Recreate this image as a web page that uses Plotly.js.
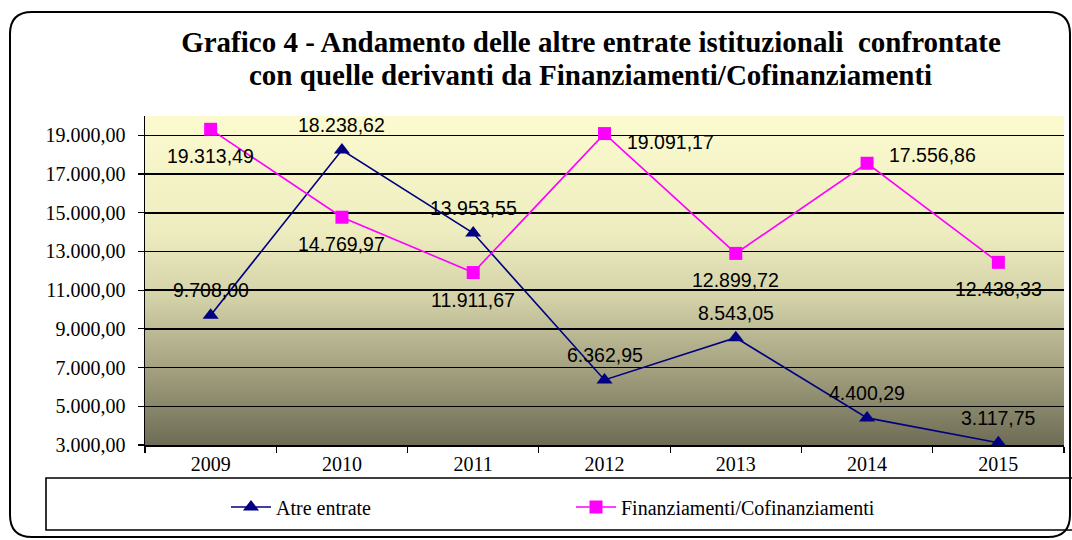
<!DOCTYPE html>
<html><head><meta charset="utf-8">
<script src="https://cdn.plot.ly/plotly-3.0.1.min.js"></script>
<style>html,body{margin:0;padding:0;background:#fff}#chart{width:1072px;height:540px}</style>
</head><body><div id="chart"></div>
<script>
// ---- data ----
const years = ['2009', '2010', '2011', '2012', '2013', '2014', '2015'];
const altreEntrate = [9708.00, 18238.62, 13953.55, 6362.95, 8543.05, 4400.29, 3117.75];
const finanziamenti = [19313.49, 14769.97, 11911.67, 19091.17, 12899.72, 17556.86, 12438.33];
const yTickVals = [3000, 5000, 7000, 9000, 11000, 13000, 15000, 17000, 19000];
const seriesNames = ['Atre entrate', 'Finanziamenti/Cofinanziamenti'];
const titleLines = ['Grafico 4 - Andamento delle altre entrate istituzionali  confrontate',
                    'con quelle derivanti da Finanziamenti/Cofinanziamenti'];
// label placement per point
const altrePos = ['above', 'above', 'above', 'above', 'above', 'above', 'above'];
const finPos = ['below', 'below', 'below', 'right', 'below', 'right', 'below'];

// ---- layout geometry ----
const W = 1072, H = 540;
const M = {l: 145, r: 8, t: 116, b: 95};
const PW = W - M.l - M.r, PH = H - M.t - M.b;
const px = x => (x - M.l) / PW;
const py = y => (H - M.b - y) / PH;

function fmt(v) {
  const s = v.toFixed(2).split('.');
  return s[0].replace(/\B(?=(\d{3})+(?!\d))/g, '.') + ',' + s[1];
}

const NAVY = '#000080', MAG = '#FF00FF';
const SERIF = 'Liberation Serif';
const traces = [
  {x: years, y: altreEntrate, name: seriesNames[0], type: 'scatter', mode: 'lines+markers',
   line: {color: NAVY, width: 1.6}, marker: {symbol: 'triangle-up', size: 14, color: NAVY}},
  {x: years, y: finanziamenti, name: seriesNames[1], type: 'scatter', mode: 'lines+markers',
   line: {color: MAG, width: 1.6}, marker: {symbol: 'square', size: 13, color: MAG}}
];

// vertical nudges (px) for 'right'-placed labels, matching the reference's manual placement
const rightNudge = {3: -8, 5: 8};
function makeLabels(vals, pos) {
  return vals.map((v, i) => {
    const a = {x: i, y: v, xref: 'x', yref: 'y', text: fmt(v), showarrow: false,
               font: {family: 'Liberation Sans', size: 19.5, color: '#000000'}};
    if (pos[i] === 'above') { a.yshift = 25; }
    else if (pos[i] === 'below') { a.yshift = -27; }
    else { a.xanchor = 'left'; a.xshift = 20; a.yshift = rightNudge[i] || 0; }
    return a;
  });
}

const r = 22, L = 10, T = 12, R = 1070, B = 537;
const outerPath = `M ${px(L + r)},${py(T)} L ${px(R - r)},${py(T)} Q ${px(R)},${py(T)} ${px(R)},${py(T + r)} ` +
  `L ${px(R)},${py(B - r)} Q ${px(R)},${py(B)} ${px(R - r)},${py(B)} L ${px(L + r)},${py(B)} ` +
  `Q ${px(L)},${py(B)} ${px(L)},${py(B - r)} L ${px(L)},${py(T + r)} Q ${px(L)},${py(T)} ${px(L + r)},${py(T)} Z`;

const gradSvg = '<svg xmlns="http://www.w3.org/2000/svg" width="100" height="100" preserveAspectRatio="none">' +
  '<defs><linearGradient id="g" x1="0" y1="0" x2="0" y2="1">' +
  '<stop offset="0" stop-color="#FCFBCF"/><stop offset="0.35" stop-color="#EEEDC0"/>' +
  '<stop offset="0.55" stop-color="#D4D2A8"/><stop offset="0.8" stop-color="#9C9A7A"/>' +
  '<stop offset="1" stop-color="#6E6C55"/></linearGradient></defs>' +
  '<rect width="100" height="100" fill="url(#g)"/></svg>';

const annotations = [...makeLabels(altreEntrate, altrePos), ...makeLabels(finanziamenti, finPos)];
annotations.push({xref: 'paper', yref: 'paper', x: px(590), y: py(75.5), xanchor: 'center', yanchor: 'middle',
  text: '<b>' + titleLines[1] + '</b>', showarrow: false, font: {family: SERIF, size: 29, color: '#000'}});

const layout = {
  width: W, height: H,
  margin: M,
  paper_bgcolor: '#fff', plot_bgcolor: 'rgba(0,0,0,0)',
  separators: ',.',
  showlegend: true,
  title: {text: '<b>' + titleLines[0] + '</b>', xref: 'container', x: 591 / W, xanchor: 'center',
          yref: 'container', y: 1 - 41.5 / H, yanchor: 'middle',
          font: {family: SERIF, size: 29, color: '#000'}},
  xaxis: {type: 'category', range: [-0.5, 6.5], showline: true, linecolor: '#000', linewidth: 1.5,
          ticks: 'outside', tickson: 'boundaries', ticklen: 6, tickcolor: '#000', tickwidth: 1.2,
          showgrid: false, zeroline: false, fixedrange: true,
          tickfont: {family: SERIF, size: 20, color: '#000'}},
  yaxis: {range: [3000, 20000], tickvals: yTickVals, tickformat: ',.2f', showline: true, linecolor: '#000', linewidth: 1.5,
          ticks: 'outside', ticklen: 6, tickcolor: '#000', tickwidth: 1.2, ticklabelstandoff: 8,
          showgrid: true, gridcolor: '#000', gridwidth: 1.5, zeroline: false, fixedrange: true,
          tickfont: {family: SERIF, size: 20, color: '#000'}},
  legend: {orientation: 'h', xref: 'paper', yref: 'paper', x: px(226), xanchor: 'left', y: py(507), yanchor: 'middle',
           bgcolor: 'rgba(0,0,0,0)', borderwidth: 0, entrywidth: 290, itemwidth: 40,
           font: {family: SERIF, size: 20, color: '#000'}},
  images: [{source: 'data:image/svg+xml;charset=utf-8,' + encodeURIComponent(gradSvg),
            xref: 'paper', yref: 'paper', x: 0, y: 1, sizex: 1, sizey: 1, sizing: 'stretch',
            xanchor: 'left', yanchor: 'top', layer: 'below'}],
  shapes: [
    {type: 'path', xref: 'paper', yref: 'paper', path: outerPath, line: {color: '#000', width: 2}, layer: 'below'},
    {type: 'rect', xref: 'paper', yref: 'paper', x0: px(46), x1: px(1085), y0: py(478), y1: py(530),
     line: {color: '#000', width: 1.6}, layer: 'below'}
  ],
  annotations: annotations
};

Plotly.newPlot('chart', traces, layout, {displayModeBar: false, staticPlot: true});
</script></body></html>
